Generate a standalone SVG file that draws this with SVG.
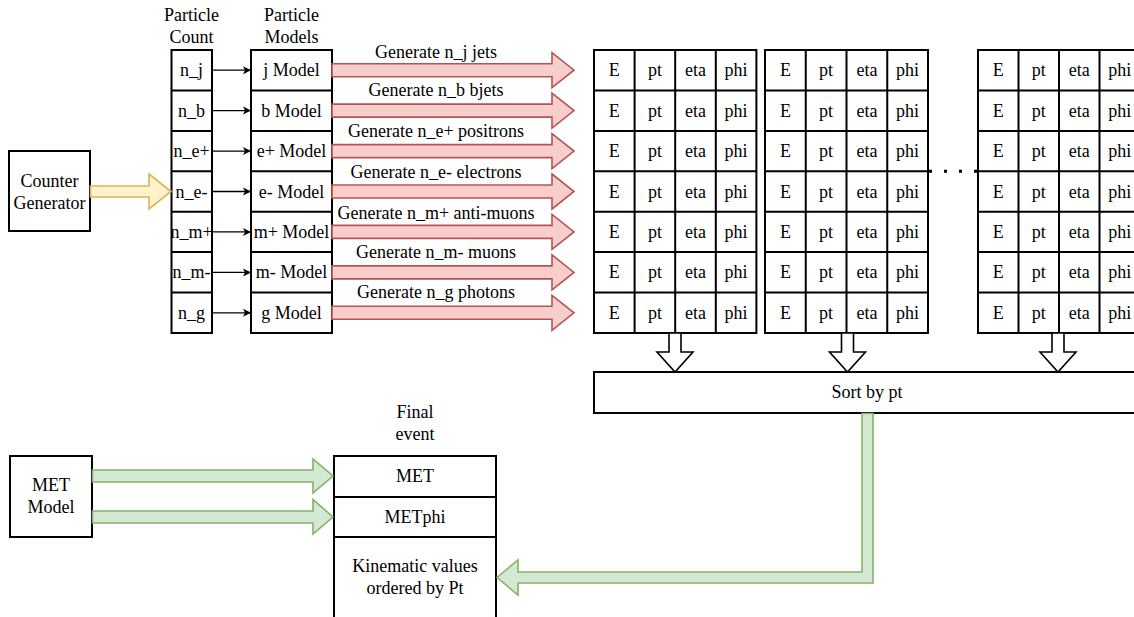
<svg xmlns="http://www.w3.org/2000/svg" xmlns:xlink="http://www.w3.org/1999/xlink" width="1134" height="617" viewBox="0 0 1134 617" font-family="'Liberation Serif', 'Times New Roman', 'DejaVu Serif', serif" font-size="18">
<style>
text{font-family:'Liberation Serif','Times New Roman','DejaVu Serif',serif;font-size:18px;fill:#000;text-anchor:middle}
.box{fill:#fff;stroke:#000;stroke-width:2}
.ln{stroke:#000;stroke-width:2;fill:none}
.red{fill:#f8cecc;stroke:#b85450;stroke-width:1.6}
.yel{fill:#fff2cc;stroke:#d6b656;stroke-width:1.6}
.grn{fill:#d5e8d4;stroke:#82b366;stroke-width:1.6}
.wht{fill:#fff;stroke:#000;stroke-width:1.6}
.thin{stroke:#000;stroke-width:1.3;fill:none}
</style>
<defs>
<marker id="ah" viewBox="0 0 10 10" refX="9" refY="5" markerWidth="10" markerHeight="10" markerUnits="userSpaceOnUse" orient="auto">
<path d="M1,1 L9,5 L1,9 L3,5 Z" fill="#000"/>
</marker>
<path id="redArrow" d="M332,-6.5 H552 V-17.5 L574,0 L552,17.5 V6.5 H332 Z"/>
<path id="downArrow" d="M-6,333 H6 V352 H18 L0,372 L-18,352 H-6 Z"/>
</defs>

<g id="counter-generator">
<rect class="box" x="9" y="151" width="81" height="80"/>
<text x="49.5" y="187">Counter</text>
<text x="49.5" y="209">Generator</text>
</g>

<g id="particle-count">
<text x="191.5" y="21">Particle</text>
<text x="191.5" y="43">Count</text>
<rect class="box" x="171.5" y="50" width="40.5" height="283"/>
<path class="ln" d="M171.5,90.4H212M171.5,130.9H212M171.5,171.3H212M171.5,211.7H212M171.5,252.1H212M171.5,292.6H212"/>
<text x="191.5" y="76.2">n_j</text>
<text x="191.5" y="116.6">n_b</text>
<text x="191.5" y="157.1">n_e+</text>
<text x="191.5" y="197.5">n_e-</text>
<text x="191.5" y="237.9">n_m+</text>
<text x="191.5" y="278.4">n_m-</text>
<text x="191.5" y="318.8">n_g</text>
</g>

<g id="particle-models">
<text x="291.5" y="21">Particle</text>
<text x="291.5" y="43">Models</text>
<rect class="box" x="251" y="50" width="81" height="283"/>
<path class="ln" d="M251,90.4H332M251,130.9H332M251,171.3H332M251,211.7H332M251,252.1H332M251,292.6H332"/>
<text x="291.5" y="76.2">j Model</text>
<text x="291.5" y="116.6">b Model</text>
<text x="291.5" y="157.1">e+ Model</text>
<text x="291.5" y="197.5">e- Model</text>
<text x="291.5" y="237.9">m+ Model</text>
<text x="291.5" y="278.4">m- Model</text>
<text x="291.5" y="318.8">g Model</text>
</g>

<g id="table-1">
<rect class="box" x="594" y="50" width="162.4" height="283"/>
<path class="ln" d="M634.6,50V333M675.2,50V333M715.8,50V333M594,90.4H756.4M594,130.9H756.4M594,171.3H756.4M594,211.7H756.4M594,252.1H756.4M594,292.6H756.4"/>
<text y="76.2"><tspan x="614.3">E</tspan><tspan x="654.9">pt</tspan><tspan x="695.5">eta</tspan><tspan x="736.1">phi</tspan></text>
<text y="116.6"><tspan x="614.3">E</tspan><tspan x="654.9">pt</tspan><tspan x="695.5">eta</tspan><tspan x="736.1">phi</tspan></text>
<text y="157.1"><tspan x="614.3">E</tspan><tspan x="654.9">pt</tspan><tspan x="695.5">eta</tspan><tspan x="736.1">phi</tspan></text>
<text y="197.5"><tspan x="614.3">E</tspan><tspan x="654.9">pt</tspan><tspan x="695.5">eta</tspan><tspan x="736.1">phi</tspan></text>
<text y="237.9"><tspan x="614.3">E</tspan><tspan x="654.9">pt</tspan><tspan x="695.5">eta</tspan><tspan x="736.1">phi</tspan></text>
<text y="278.4"><tspan x="614.3">E</tspan><tspan x="654.9">pt</tspan><tspan x="695.5">eta</tspan><tspan x="736.1">phi</tspan></text>
<text y="318.8"><tspan x="614.3">E</tspan><tspan x="654.9">pt</tspan><tspan x="695.5">eta</tspan><tspan x="736.1">phi</tspan></text>
</g>

<g id="table-2">
<rect class="box" x="765" y="50" width="163" height="283"/>
<path class="ln" d="M805.75,50V333M846.5,50V333M887.25,50V333M765,90.4H928M765,130.9H928M765,171.3H928M765,211.7H928M765,252.1H928M765,292.6H928"/>
<text y="76.2"><tspan x="785.4">E</tspan><tspan x="826.1">pt</tspan><tspan x="866.9">eta</tspan><tspan x="907.6">phi</tspan></text>
<text y="116.6"><tspan x="785.4">E</tspan><tspan x="826.1">pt</tspan><tspan x="866.9">eta</tspan><tspan x="907.6">phi</tspan></text>
<text y="157.1"><tspan x="785.4">E</tspan><tspan x="826.1">pt</tspan><tspan x="866.9">eta</tspan><tspan x="907.6">phi</tspan></text>
<text y="197.5"><tspan x="785.4">E</tspan><tspan x="826.1">pt</tspan><tspan x="866.9">eta</tspan><tspan x="907.6">phi</tspan></text>
<text y="237.9"><tspan x="785.4">E</tspan><tspan x="826.1">pt</tspan><tspan x="866.9">eta</tspan><tspan x="907.6">phi</tspan></text>
<text y="278.4"><tspan x="785.4">E</tspan><tspan x="826.1">pt</tspan><tspan x="866.9">eta</tspan><tspan x="907.6">phi</tspan></text>
<text y="318.8"><tspan x="785.4">E</tspan><tspan x="826.1">pt</tspan><tspan x="866.9">eta</tspan><tspan x="907.6">phi</tspan></text>
</g>

<g id="table-3">
<rect class="box" x="978" y="50" width="162" height="283"/>
<path class="ln" d="M1018.5,50V333M1059,50V333M1099.5,50V333M978,90.4H1140M978,130.9H1140M978,171.3H1140M978,211.7H1140M978,252.1H1140M978,292.6H1140"/>
<text y="76.2"><tspan x="998.25">E</tspan><tspan x="1038.75">pt</tspan><tspan x="1079.25">eta</tspan><tspan x="1119.75">phi</tspan></text>
<text y="116.6"><tspan x="998.25">E</tspan><tspan x="1038.75">pt</tspan><tspan x="1079.25">eta</tspan><tspan x="1119.75">phi</tspan></text>
<text y="157.1"><tspan x="998.25">E</tspan><tspan x="1038.75">pt</tspan><tspan x="1079.25">eta</tspan><tspan x="1119.75">phi</tspan></text>
<text y="197.5"><tspan x="998.25">E</tspan><tspan x="1038.75">pt</tspan><tspan x="1079.25">eta</tspan><tspan x="1119.75">phi</tspan></text>
<text y="237.9"><tspan x="998.25">E</tspan><tspan x="1038.75">pt</tspan><tspan x="1079.25">eta</tspan><tspan x="1119.75">phi</tspan></text>
<text y="278.4"><tspan x="998.25">E</tspan><tspan x="1038.75">pt</tspan><tspan x="1079.25">eta</tspan><tspan x="1119.75">phi</tspan></text>
<text y="318.8"><tspan x="998.25">E</tspan><tspan x="1038.75">pt</tspan><tspan x="1079.25">eta</tspan><tspan x="1119.75">phi</tspan></text>
</g>

<g id="sort-by-pt">
<rect class="box" x="594" y="372" width="546" height="41"/>
<text x="867" y="398">Sort by pt</text>
</g>

<g id="met-model">
<rect class="box" x="10" y="456" width="82" height="81"/>
<text x="51" y="491">MET</text>
<text x="51" y="513">Model</text>
</g>

<g id="final-event">
<text x="415" y="418">Final</text>
<text x="415" y="440">event</text>
<rect class="box" x="334" y="456" width="162" height="190"/>
<path class="ln" d="M334,497H496M334,537H496"/>
<text x="415" y="482">MET</text>
<text x="415" y="523">METphi</text>
<text x="415" y="572">Kinematic values</text>
<text x="415" y="594">ordered by Pt</text>
</g>

<g id="connectors">
<path class="yel" d="M90.5,186 H149 V174 L171,191.5 L149,209 V197 H90.5 Z"/>
<line class="thin" x1="212" y1="70.2" x2="251" y2="70.2" marker-end="url(#ah)"/>
<line class="thin" x1="212" y1="110.6" x2="251" y2="110.6" marker-end="url(#ah)"/>
<line class="thin" x1="212" y1="151.1" x2="251" y2="151.1" marker-end="url(#ah)"/>
<line class="thin" x1="212" y1="191.5" x2="251" y2="191.5" marker-end="url(#ah)"/>
<line class="thin" x1="212" y1="231.9" x2="251" y2="231.9" marker-end="url(#ah)"/>
<line class="thin" x1="212" y1="272.4" x2="251" y2="272.4" marker-end="url(#ah)"/>
<line class="thin" x1="212" y1="312.8" x2="251" y2="312.8" marker-end="url(#ah)"/>
<use xlink:href="#redArrow" href="#redArrow" class="red" y="70.2"/>
<use xlink:href="#redArrow" href="#redArrow" class="red" y="110.6"/>
<use xlink:href="#redArrow" href="#redArrow" class="red" y="151.1"/>
<use xlink:href="#redArrow" href="#redArrow" class="red" y="191.5"/>
<use xlink:href="#redArrow" href="#redArrow" class="red" y="231.9"/>
<use xlink:href="#redArrow" href="#redArrow" class="red" y="272.4"/>
<use xlink:href="#redArrow" href="#redArrow" class="red" y="312.8"/>
<text x="436" y="57.5">Generate n_j jets</text>
<text x="436" y="96">Generate n_b bjets</text>
<text x="436" y="137">Generate n_e+ positrons</text>
<text x="436" y="178">Generate n_e- electrons</text>
<text x="436" y="219">Generate n_m+ anti-muons</text>
<text x="436" y="258">Generate n_m- muons</text>
<text x="436" y="298">Generate n_g photons</text>
<line x1="929" y1="171.3" x2="980" y2="171.3" stroke="#000" stroke-width="3" stroke-dasharray="3 12"/>
<use xlink:href="#downArrow" href="#downArrow" class="wht" x="675"/>
<use xlink:href="#downArrow" href="#downArrow" class="wht" x="847.5"/>
<use xlink:href="#downArrow" href="#downArrow" class="wht" x="1058"/>
<path class="grn" d="M862,413.5 H873 V583 H518 V595 L497,577.5 L518,560 V572 H862 Z"/>
<path class="grn" d="M92.5,470 H313 V459 L333,476 L313,493 V482 H92.5 Z"/>
<path class="grn" d="M92.5,511 H313 V499.5 L333,517 L313,534 V523 H92.5 Z"/>
</g>
</svg>
